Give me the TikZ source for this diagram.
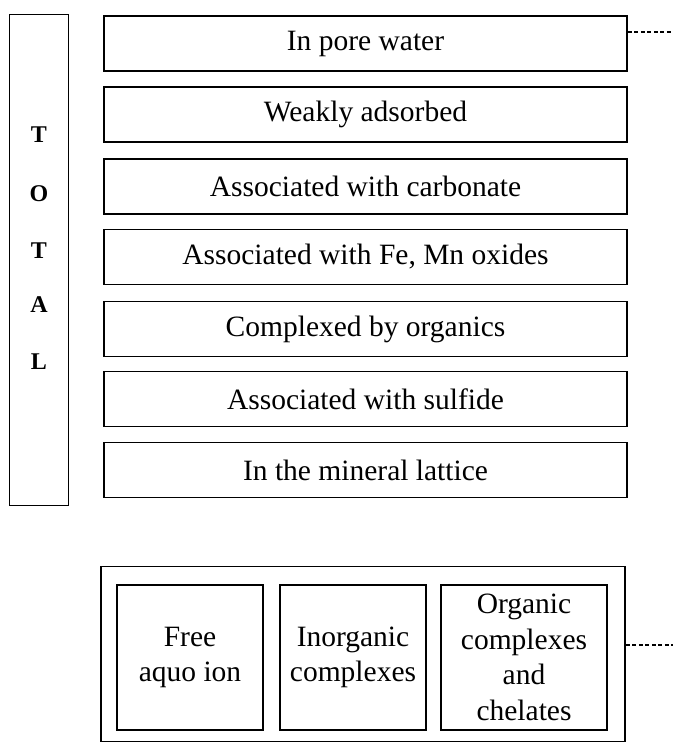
\documentclass[tikz,border=0pt]{standalone}
\usepackage{fontspec}
\setmainfont{Liberation Serif}
\begin{document}
\begin{tikzpicture}[x=1pt,y=-1pt,
  layerbox/.style={draw, line width=1.9pt, minimum width=523pt, minimum height=55pt,
    inner sep=0pt, font=\fontsize{29.5}{35}\selectfont},
  specbox/.style={draw, line width=1.9pt, minimum height=145pt, inner sep=0pt,
    align=center, font=\fontsize{29.5}{35.5}\selectfont},
  frame/.style={draw, line width=1.5pt, inner sep=0pt},
  letter/.style={font=\fontsize{24}{26}\selectfont\bfseries, inner sep=0pt},
  link/.style={draw, line width=1.1pt, dash pattern=on 4pt off 2.5pt}]
\useasboundingbox (0,0) rectangle (673,743);

% TOTAL column
\node[frame, minimum width=59pt, minimum height=491pt] (total) at (39,260) {};
\node[letter] (t1) at (39,135) {T};
\node[letter] (t2) at (39,194) {O};
\node[letter] (t3) at (39,251) {T};
\node[letter] (t4) at (39,305) {A};
\node[letter] (t5) at (39,362) {L};

% fractions
\node[layerbox] (b1) at (365.5,43.5) {In pore water};
\node[layerbox] (b2) at (365.5,114.5) {Weakly adsorbed};
\node[layerbox] (b3) at (365.5,186.5) {Associated with carbonate};
\node[layerbox] (b4) at (365.5,257) {Associated with Fe, Mn oxides};
\node[layerbox] (b5) at (365.5,329) {Complexed by organics};
\node[layerbox] (b6) at (365.5,399) {Associated with sulfide};
\node[layerbox] (b7) at (365.5,470) {In the mineral lattice};

\coordinate (e1) at (673,32);
\draw[link] (b1.east |- e1) -- (e1);

% species in solution
\node[frame, minimum width=524pt, minimum height=175pt] (outer) at (363,654) {};
\node[specbox, minimum width=146pt] (s1) at (190,657.5) {Free\\aquo ion};
\node[specbox, minimum width=146pt] (s2) at (353,657.5) {Inorganic\\complexes};
\node[specbox, minimum width=166pt] (s3) at (524,657.5) {Organic\\complexes\\and\\chelates};

\coordinate (e2) at (673,645);
\draw[link] (outer.east |- e2) -- (e2);
\end{tikzpicture}
\end{document}
